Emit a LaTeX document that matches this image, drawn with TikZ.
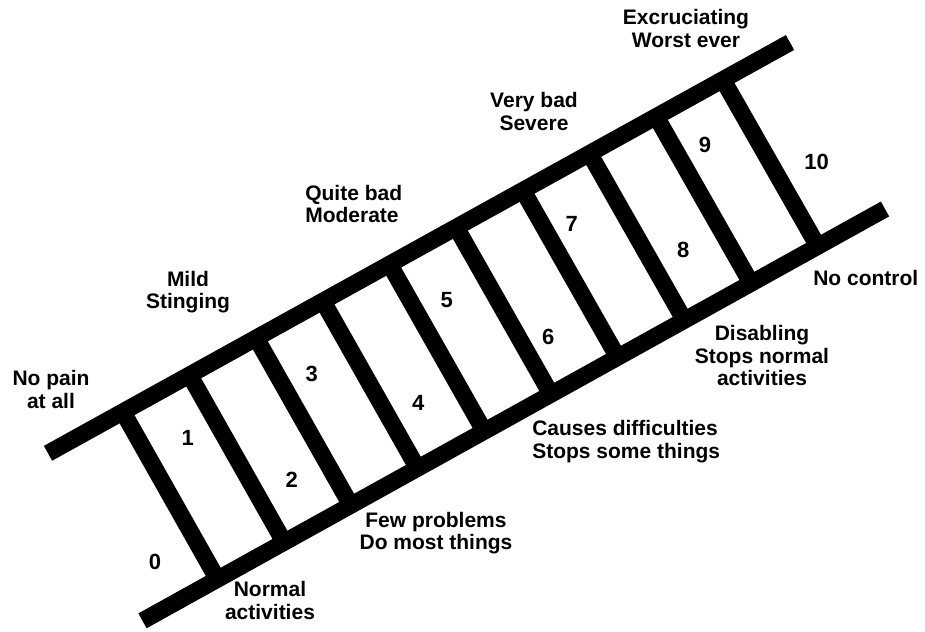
\documentclass[tikz,border=0pt]{standalone}
\usepackage{fontspec}
\setmainfont{Liberation Sans}
\usetikzlibrary{calc}
\begin{document}
\begin{tikzpicture}[x=0.75pt,y=-0.75pt,
  rail/.style={line width=12.75pt,black},
  lbl/.style={font=\bfseries\fontsize{15.75}{17}\selectfont,inner sep=0pt,align=center},
  lbll/.style={font=\bfseries\fontsize{15.75}{17}\selectfont,inner sep=0pt,align=left,anchor=west},
  num/.style={font=\bfseries\fontsize{16.5}{18}\selectfont,inner sep=0pt},
  one/.style={font=\bfseries\fontsize{15.75}{17}\selectfont,inner sep=0pt}]
\fill[white] (0,0) rectangle (925,632);
\useasboundingbox (0,0) rectangle (925,632);
% rails
\coordinate (A) at (48,453.3);
\coordinate (B) at (790,42.5);
\coordinate (C) at (142.5,620.8);
\coordinate (D) at (885,209);
\draw[rail] (A) -- (B);
\draw[rail] (C) -- (D);
% rungs
\foreach \k in {1,...,10} {
  \pgfmathsetmacro\f{0.1009+0.08985*(\k-1)}
  \coordinate (u\k) at ($(A)!\f!(B)$);
  \coordinate (l\k) at ($(C)!\f!(D)$);
  \draw[rail] (u\k) -- (l\k);
}
% numbers
\node[num] (n0) at (155,561.7) {0};
\node[num] (n1) at (187.7,438.3) {1};
\node[num] (n2) at (291.7,480) {2};
\node[num] (n3) at (311.7,374) {3};
\node[num] (n4) at (418.3,403.3) {4};
\node[num] (n5) at (446.7,300) {5};
\node[num] (n6) at (548.3,336.7) {6};
\node[num] (n7) at (571.7,224) {7};
\node[num] (n8) at (683.3,250) {8};
\node[num] (n9) at (705,145) {9};
\node[num] (n10) at (816.7,161.7) {10};
% labels
\node[lbl] (t0) at (51,389.5) {No pain\\at all};
\node[lbl] (t1) at (188,292) {Mild\\Stinging};
\node[lbll] (t2) at (305,204) {Quite bad\\Moderate};
\node[lbl] (t3) at (534,111.5) {Very bad\\Severe};
\node[lbl] (t4) at (686,28.5) {Excruciating\\Worst ever};
\node[one,anchor=base west] (t5) at (813,285) {No control};
\node[lbl] (t6) at (762,355.5) {Disabling\\Stops normal\\activities};
\node[lbll] (t7) at (532,441.5) {Causes difficulties\\Stops some things};
\node[lbl] (t8) at (436,533) {Few problems\\Do most things};
\node[lbl] (t9) at (270,600.5) {Normal\\activities};
\end{tikzpicture}
\end{document}
